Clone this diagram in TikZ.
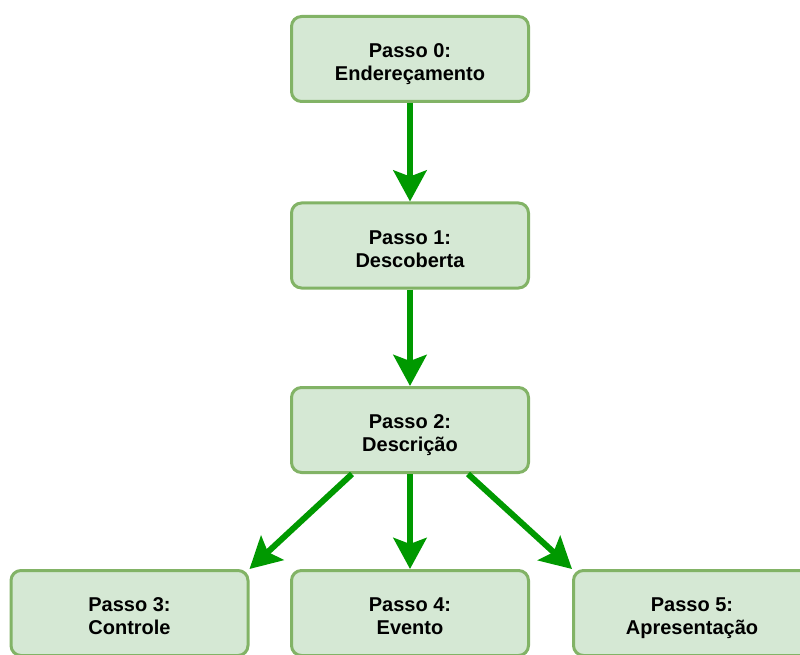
\documentclass[tikz,border=0pt]{standalone}
\usepackage{fontspec}
\setmainfont{Liberation Sans}
\usetikzlibrary{arrows.meta,calc}

\definecolor{stepfill}{HTML}{D5E8D4}
\definecolor{stepline}{HTML}{82B366}
\definecolor{flow}{HTML}{009900}

% two-line step label with fixed height and depth, so every label sits alike
\newcommand{\steplines}[2]{\rule{0pt}{26pt}#1\\#2\rule[-6pt]{0pt}{6pt}}

\tikzset{
  stepbox/.style={draw=stepline, fill=stepfill, line width=3pt, rounded corners=10pt,
    minimum width=237pt, minimum height=85pt, align=center,
    font=\fontsize{20}{23}\selectfont\bfseries, inner sep=0pt},
  flowarrow/.style={draw=flow, line width=6pt,
    -{Stealth[length=31pt, width=33pt, inset=6pt]}},
}

\begin{document}
\begin{tikzpicture}[x=1pt, y=-1pt]
  \useasboundingbox (0,0) rectangle (800,655);

  \node[stepbox] (p0) at (410,59)    {\steplines{Passo 0:}{Endereçamento}};
  \node[stepbox] (p1) at (410,245.5) {\steplines{Passo 1:}{Descoberta}};
  \node[stepbox] (p2) at (410,430)   {\steplines{Passo 2:}{Descrição}};
  \node[stepbox] (p3) at (129.5,613) {\steplines{Passo 3:}{Controle}};
  \node[stepbox] (p4) at (410,613)   {\steplines{Passo 4:}{Evento}};
  \node[stepbox] (p5) at (692,613)   {\steplines{Passo 5:}{Apresentação}};

  % branch points on the lower edge of step 2
  \coordinate (l2) at ($(p2.south)+(-58,0)$);
  \coordinate (r2) at ($(p2.south)+(58,0)$);

  \draw[flowarrow] (p0.south) -- (p1.north);
  \draw[flowarrow] (p1.south) -- (p2.north);
  \draw[flowarrow] (l2) -- (p3.north east);
  \draw[flowarrow] (p2.south) -- (p4.north);
  \draw[flowarrow] (r2) -- (p5.north west);
\end{tikzpicture}
\end{document}
